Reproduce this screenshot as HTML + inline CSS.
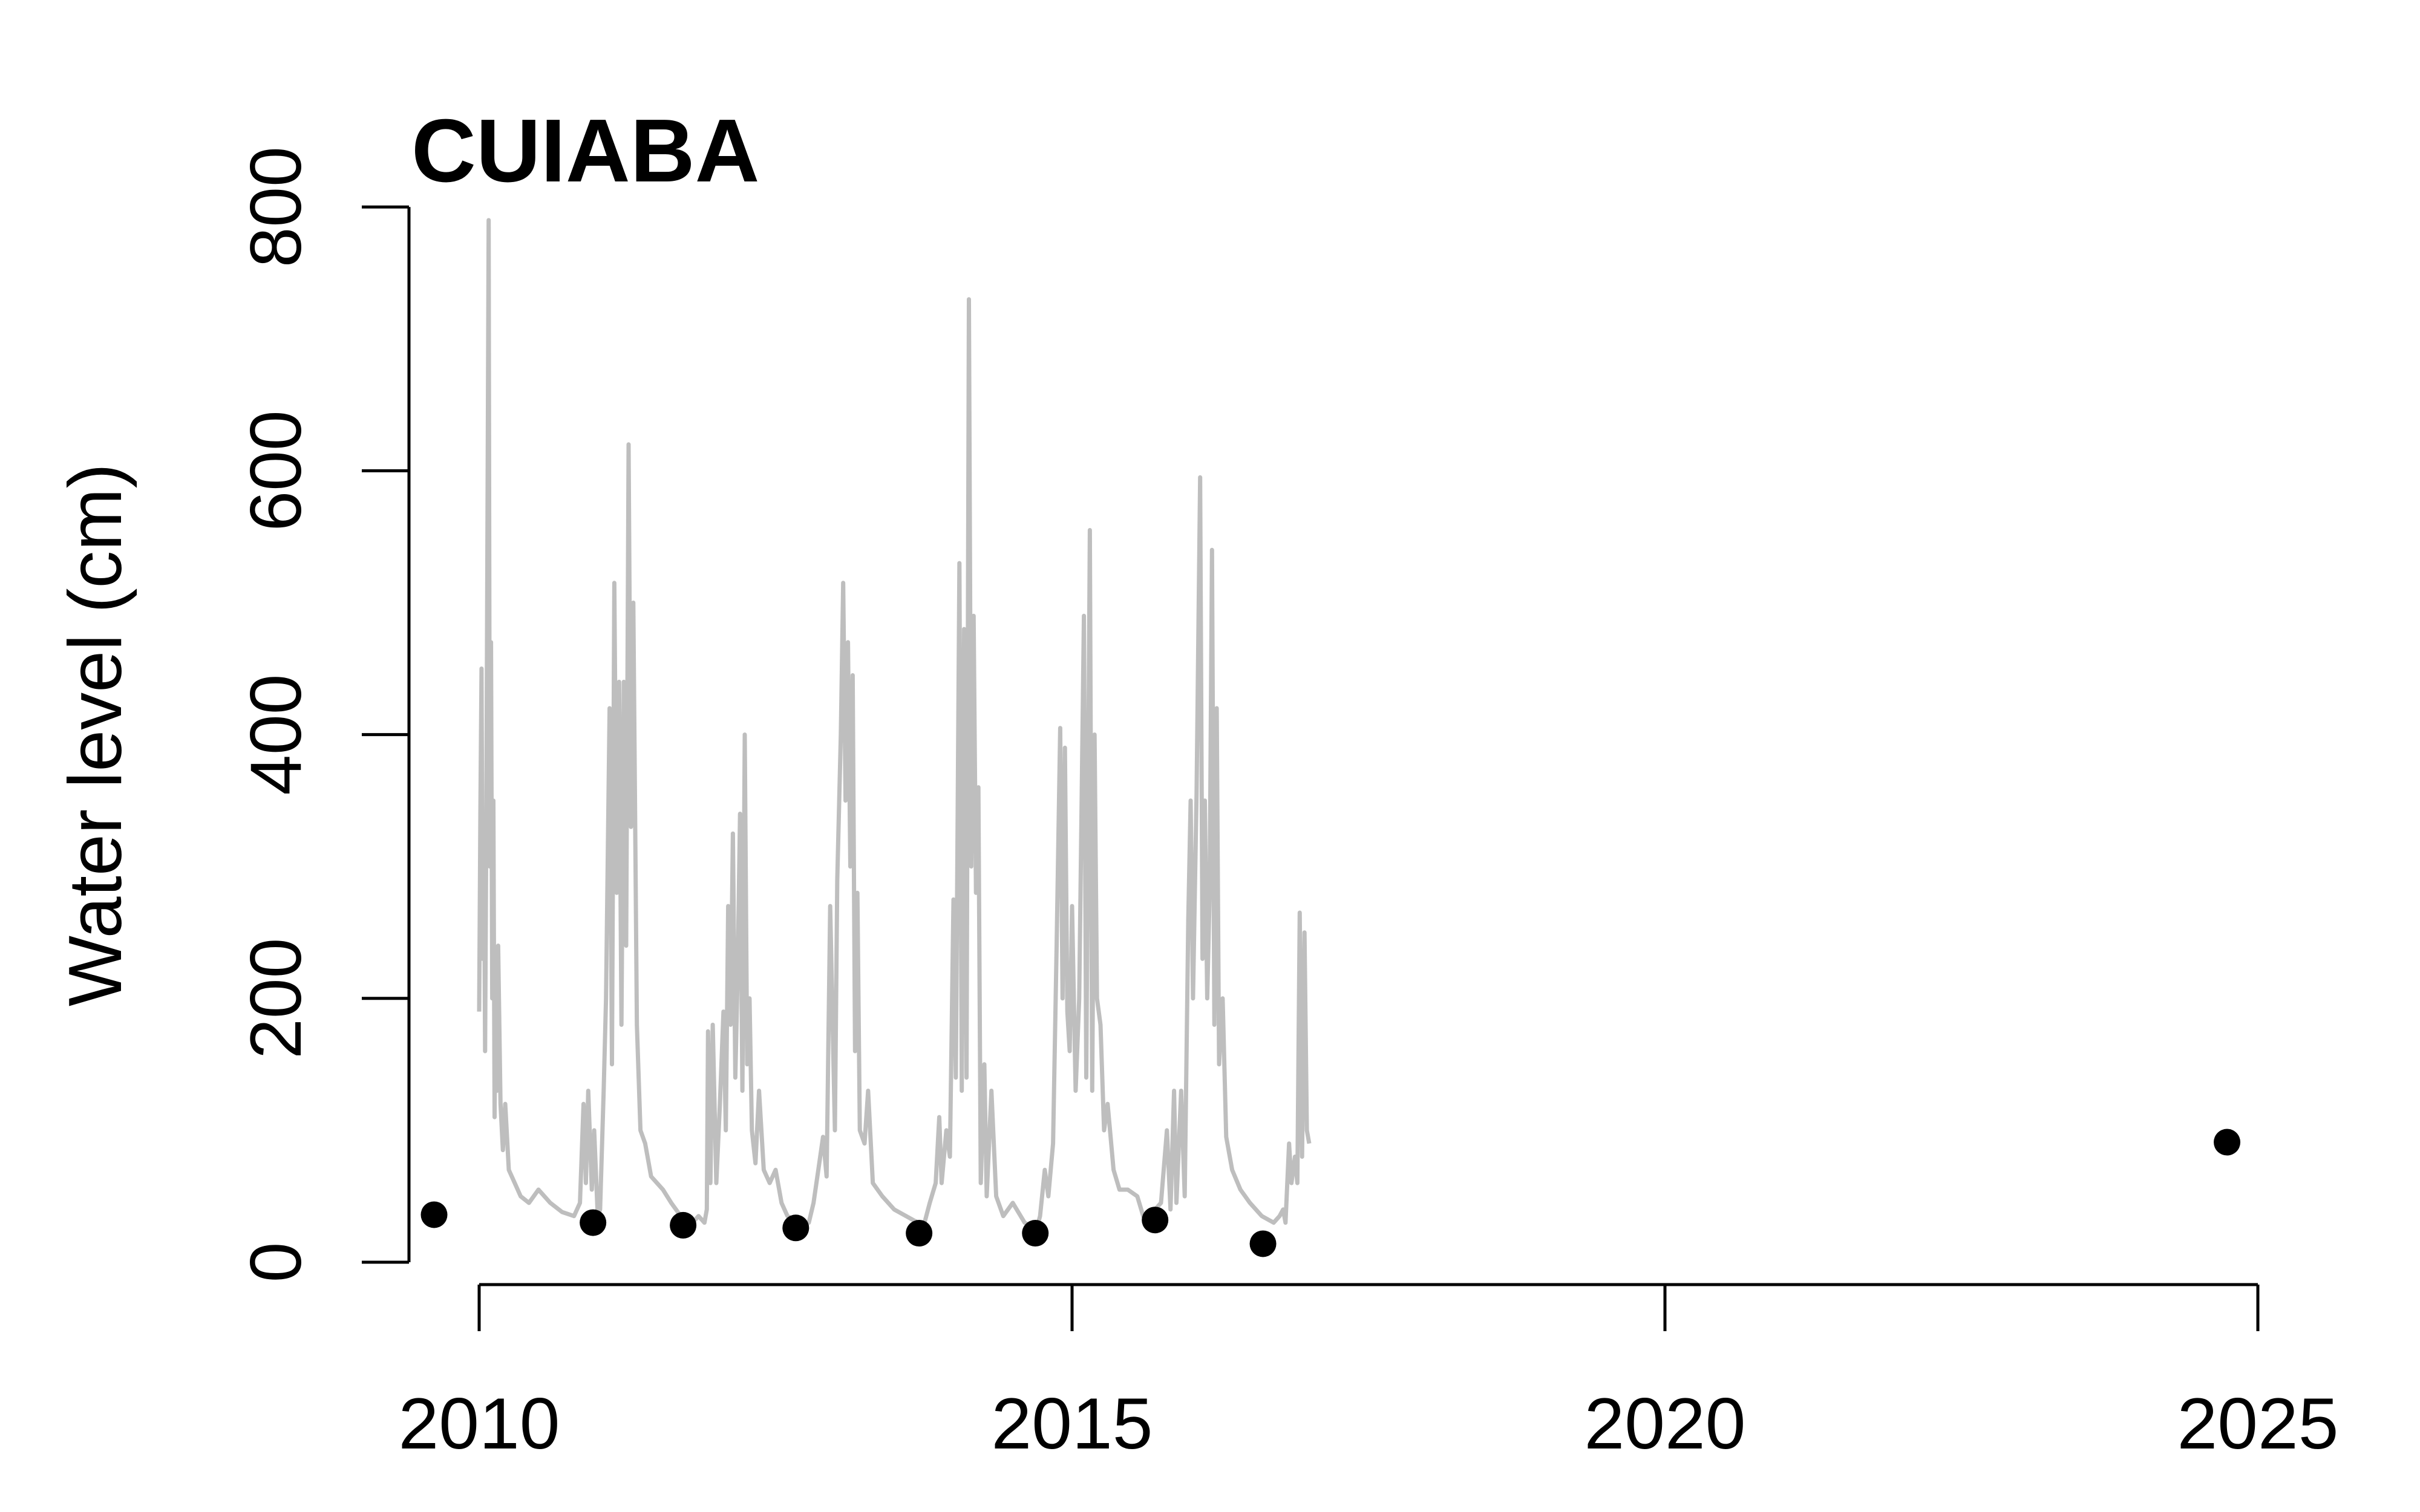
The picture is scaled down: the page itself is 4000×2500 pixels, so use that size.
<!DOCTYPE html>
<html><head><meta charset="utf-8"><style>html,body{margin:0;padding:0;background:#fff}svg{display:block}</style></head>
<body>
<svg id="chart" width="4000" height="2500" xmlns="http://www.w3.org/2000/svg" font-family="'Liberation Sans', Arial, sans-serif">
<rect width="4000" height="2500" fill="#fff"/>
<text x="680" y="300" font-size="148" font-weight="bold" fill="#000">CUIABA</text>
<text transform="translate(200,1215) rotate(-90)" text-anchor="middle" font-size="124" fill="#000">Water level (cm)</text>
<g id="axes"></g>
<g id="series"></g>
</svg>
<script>
const xTicks = [2010, 2015, 2020, 2025];
const yTicks = [0, 200, 400, 600, 800];
const lineYears = [2010.00,2010.01,2010.02,2010.03,2010.04,2010.05,2010.06,2010.08,2010.09,2010.10,2010.11,2010.12,2010.13,2010.14,2010.15,2010.16,2010.18,2010.2,2010.22,2010.25,2010.3,2010.35,2010.42,2010.5,2010.6,2010.7,2010.8,2010.85,2010.88,2010.9,2010.92,2010.95,2010.97,2011.0,2011.02,2011.05,2011.07,2011.1,2011.12,2011.14,2011.16,2011.18,2011.2,2011.22,2011.24,2011.26,2011.28,2011.3,2011.33,2011.36,2011.4,2011.45,2011.5,2011.55,2011.62,2011.7,2011.8,2011.85,2011.9,
2011.92,2011.93,2011.95,2011.97,2012.0,2012.03,2012.06,2012.08,2012.1,2012.12,2012.14,2012.16,2012.18,2012.2,2012.22,2012.24,2012.26,2012.28,2012.3,2012.33,2012.36,2012.4,2012.45,2012.5,2012.55,2012.6,2012.7,2012.78,2012.82,
2012.86,2012.9,2012.93,2012.96,2013.0,2013.02,2013.05,2013.07,2013.09,2013.11,2013.13,2013.15,2013.17,2013.19,2013.21,2013.25,2013.28,2013.32,2013.4,2013.5,2013.6,2013.7,2013.75,2013.8,
2013.85,2013.88,2013.9,2013.94,2013.97,2014.0,2014.02,2014.05,2014.07,2014.09,2014.11,2014.13,2014.15,2014.17,2014.19,2014.21,2014.23,2014.26,2014.28,2014.32,2014.36,2014.42,2014.5,2014.6,2014.7,
2014.73,2014.77,2014.8,2014.84,2014.87,2014.9,2014.92,2014.94,2014.96,2014.98,2015.0,2015.03,2015.06,2015.1,2015.12,2015.15,2015.17,2015.19,2015.21,2015.24,2015.27,2015.3,2015.35,2015.4,2015.47,2015.55,2015.6,2015.7,2015.75,
2015.8,2015.83,2015.86,2015.88,2015.92,2015.95,2015.98,2016.0,2016.02,2016.05,2016.08,2016.1,2016.12,2016.14,2016.16,2016.18,2016.2,2016.22,2016.24,2016.27,2016.3,2016.35,2016.42,2016.5,2016.6,2016.7,2016.75,
2016.78,2016.8,2016.83,2016.85,2016.88,2016.9,2016.92,2016.94,2016.96,2016.98,2017.0];
const lineValues = [190,340,450,230,340,160,330,790,300,470,200,350,110,230,130,240,120,85,120,70,60,50,45,55,45,38,35,45,120,60,130,55,100,35,40,130,200,420,150,515,280,440,180,440,240,620,330,500,180,100,90,65,60,55,45,35,30,35,30,
40,175,60,180,60,120,190,100,270,180,325,140,220,340,130,400,150,200,100,75,130,70,60,70,45,35,30,30,45,
70,95,65,270,100,290,400,515,350,470,300,445,160,280,100,90,130,60,50,40,35,30,28,45,
60,110,60,100,80,275,140,530,130,480,140,730,300,490,280,360,60,150,50,130,50,35,45,30,25,
35,70,50,90,240,405,200,390,190,160,270,130,200,490,140,555,130,400,200,180,100,120,70,55,55,50,35,40,45,
100,40,130,45,130,50,260,350,200,355,595,230,350,200,280,540,180,420,150,200,95,70,55,45,35,30,35,
40,30,90,60,80,60,265,80,250,100,90];
const pointYears = [2009.62, 2010.96, 2011.72, 2012.67, 2013.71, 2014.69, 2015.70, 2016.61, 2024.74];
const pointValues = [36, 30, 28, 26, 22, 22, 32, 14, 91];

const NS = 'http://www.w3.org/2000/svg';
function xScale(yr){ return 792 + (yr - 2010) * 196; }
function yScale(v){ return 2087 - v * 2.181; }
function mk(tag, attrs, parent){ const e = document.createElementNS(NS, tag); for (const k in attrs) e.setAttribute(k, attrs[k]); parent.appendChild(e); return e; }
const axes = document.getElementById('axes');
const series = document.getElementById('series');

const yl = mk('line', {x1:676, x2:676, y1:yScale(800), y2:yScale(0), stroke:'#000', 'stroke-width':5}, axes);


yTicks.forEach(function(t){
  const tk = mk('line', {x1:598, x2:676, y1:yScale(t), y2:yScale(t), stroke:'#000', 'stroke-width':5}, axes);
  
  
  const tx = mk('text', {transform:'translate(497,' + yScale(t) + ') rotate(-90)', 'text-anchor':'middle', 'font-size':120, fill:'#000'}, axes);
  tx.textContent = String(t);
  
  
});
const xl = mk('line', {x1:xScale(2010), x2:xScale(2025), y1:2124, y2:2124, stroke:'#000', 'stroke-width':5}, axes);


xTicks.forEach(function(t){
  const tk = mk('line', {x1:xScale(t), x2:xScale(t), y1:2124, y2:2201, stroke:'#000', 'stroke-width':5}, axes);
  
  
  const tx = mk('text', {x:xScale(t), y:2395, 'text-anchor':'middle', 'font-size':120, fill:'#000'}, axes);
  tx.textContent = String(t);
  
  
});

let d = '';
lineYears.forEach(function(yr, i){ d += (i ? 'L' : 'M') + xScale(yr).toFixed(1) + ',' + yScale(lineValues[i]).toFixed(1); });
const path = mk('path', {d:d, fill:'none', stroke:'#bebebe', 'stroke-width':7, 'stroke-linejoin':'round'}, series);



pointYears.forEach(function(yr, i){
  const c = mk('circle', {cx:xScale(yr), cy:yScale(pointValues[i]), r:22, fill:'#000'}, series);
  
  
});
</script>
</body></html>
